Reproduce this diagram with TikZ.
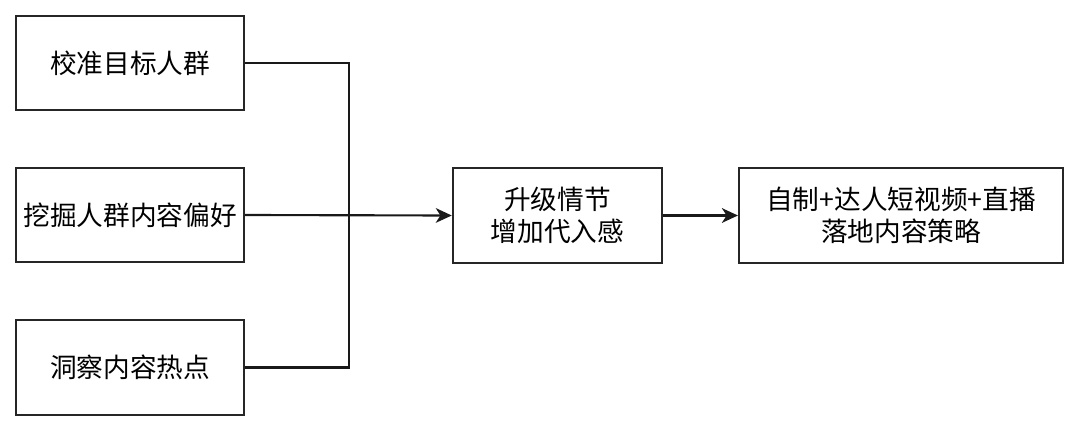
\documentclass[tikz,border=0pt]{standalone}
\usepackage{fontspec}
\newfontfamily\cjk{Noto Sans CJK SC}
\usetikzlibrary{arrows.meta}
\begin{document}
\begin{tikzpicture}[x=0.75pt,y=-0.75pt,
  box/.style={draw=black!85,line width=1.6pt,minimum height=71pt,inner sep=0pt,align=center,font=\cjk\fontsize{20pt}{24.5pt}\selectfont},
  conn/.style={draw=black!90,line width=1.6pt},
  arr/.style={conn,-{Stealth[length=12pt,width=11pt,inset=3.5pt]}}]
\useasboundingbox[fill=white] (0,0) rectangle (1080,432);
\node[box,minimum width=171pt] (a) at (130,63) {校准目标人群};
\node[box,minimum width=171pt] (b) at (130,215) {挖掘人群内容偏好};
\node[box,minimum width=171pt] (c) at (130,367.5) {洞察内容热点};
\node[box,minimum width=157pt] (d) at (557.5,215.5) {升级情节\\增加代入感};
\node[box,minimum width=243pt] (e) at (901,215.5) {自制+达人短视频+直播\\落地内容策略};
\coordinate (j) at (349,215);
\draw[conn] (a.east) -| (j);
\draw[conn] (c.east) -| (j);
\draw[arr] (b.east) -- (d.west);
\draw[arr] (d.east) -- (e.west);
\end{tikzpicture}
\end{document}
